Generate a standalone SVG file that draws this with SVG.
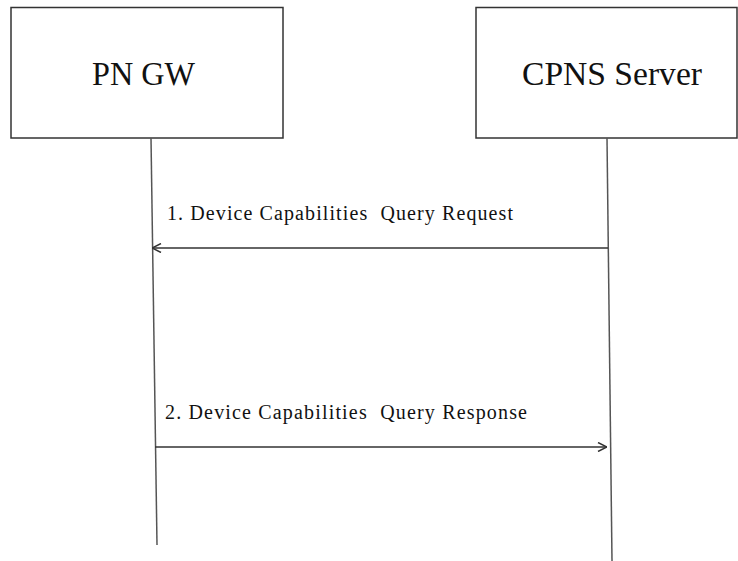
<svg xmlns="http://www.w3.org/2000/svg" width="738" height="561" viewBox="0 0 738 561">
<style>
.box{fill:#fff;stroke:#333;stroke-width:1.5}
.life{stroke:#555;stroke-width:1.5;fill:none}
.msg{stroke:#333;stroke-width:1.5;fill:none}
.title{font-family:"Liberation Serif","Times New Roman",serif;font-size:33px;fill:#111}
.lbl{font-family:"Liberation Serif","Times New Roman",serif;font-size:20px;fill:#111;white-space:pre}
</style>
<defs>
<marker id="open" viewBox="0 0 10 10" refX="10" refY="5" markerWidth="10" markerHeight="10" markerUnits="userSpaceOnUse" orient="auto">
<path d="M1,0.5 L10,5 L1,9.5" fill="none" stroke="#333" stroke-width="1.5"/>
</marker>
</defs>
<rect width="738" height="561" fill="#fff"/>
<g id="pngw">
<rect class="box" x="11" y="7.5" width="272" height="130.5"/>
<text class="title" x="92" y="85" textLength="103" lengthAdjust="spacingAndGlyphs">PN GW</text>
</g>
<g id="cpns">
<rect class="box" x="476" y="7.5" width="261" height="130.5"/>
<text class="title" x="522" y="85" textLength="180" lengthAdjust="spacingAndGlyphs">CPNS Server</text>
</g>
<g id="connectors">
<line class="life" x1="151" y1="138" x2="157" y2="545"/>
<line class="life" x1="607" y1="138" x2="612" y2="561"/>
<line class="msg" x1="608" y1="248" x2="152" y2="248" marker-end="url(#open)"/>
<text class="lbl" x="167" y="220" textLength="346" lengthAdjust="spacing" xml:space="preserve">1. Device Capabilities  Query Request</text>
<line class="msg" x1="155" y1="447" x2="607" y2="447" marker-end="url(#open)"/>
<text class="lbl" x="165" y="419" textLength="362" lengthAdjust="spacing" xml:space="preserve">2. Device Capabilities  Query Response</text>
</g>
</svg>
